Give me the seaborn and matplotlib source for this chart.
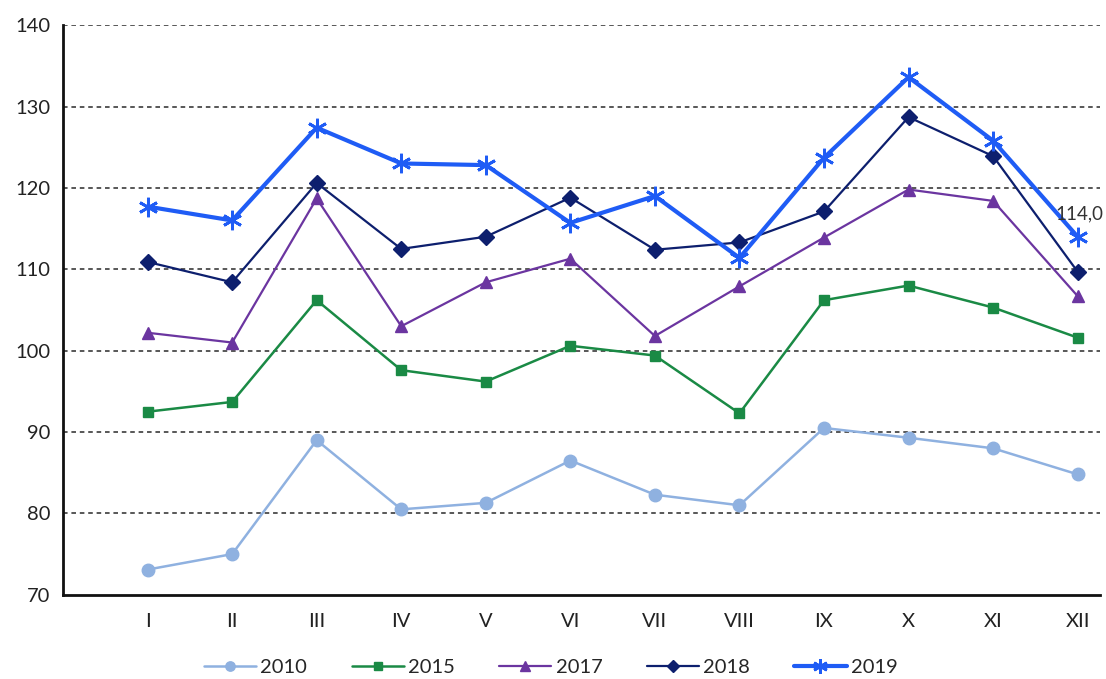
import numpy as np
import pandas as pd
import matplotlib
matplotlib.use("Agg")
import matplotlib.pyplot as plt
import seaborn as sns

months = ["I", "II", "III", "IV", "V", "VI", "VII", "VIII", "IX", "X", "XI", "XII"]

v2010 = [73.1, 75.0, 89.0, 80.5, 81.3, 86.5, 82.3, 81.0, 90.5, 89.3, 88.0, 84.8]
v2015 = [92.5, 93.7, 106.2, 97.6, 96.2, 100.6, 99.4, 92.3, 106.2, 108.0, 105.3, 101.6]
v2017 = [102.2, 101.0, 118.7, 103.0, 108.4, 111.3, 101.8, 107.9, 113.9, 119.8, 118.4, 106.7]
v2018 = [110.9, 108.4, 120.6, 112.5, 114.0, 118.8, 112.4, 113.3, 117.1, 128.7, 123.9, 109.7]
v2019 = [117.7, 116.0, 127.4, 123.0, 122.8, 115.7, 119.0, 111.4, 123.7, 133.6, 125.8, 114.0]

years = ["2010", "2015", "2017", "2018", "2019"]
series = [v2010, v2015, v2017, v2018, v2019]

colors = {"2010": "#8fb1e0", "2015": "#1a8a45", "2017": "#6b35a0",
          "2018": "#0d1f6e", "2019": "#1f5cf5"}
markers = {"2010": "o", "2015": "s", "2017": "^", "2018": "D", "2019": (6, 2, 0)}
msizes = {"2010": 9, "2015": 7, "2017": 9, "2018": 8, "2019": 14}
lwidths = {"2010": 1.8, "2015": 1.8, "2017": 1.6, "2018": 1.6, "2019": 3.0}

rows = []
for y, vals in zip(years, series):
    for i, v in enumerate(vals):
        rows.append({"year": y, "pos": i + 1, "value": v})
df = pd.DataFrame(rows)

sns.set_style("white")
plt.rcParams["font.family"] = ["Lato", "DejaVu Sans"]

fig = plt.figure(figsize=(11.06, 6.79), dpi=100)
ax = fig.add_axes([0.057, 0.124, 0.938, 0.839])

for y in years:
    sub = df[df["year"] == y]
    sns.lineplot(data=sub, x="pos", y="value", ax=ax, color=colors[y],
                 marker=markers[y], markersize=msizes[y], linewidth=lwidths[y],
                 markeredgecolor=colors[y], markeredgewidth=2 if y == "2019" else 1,
                 label=y)

# data label on last point of 2019
ax.annotate("114,0", (12, v2019[-1]), xytext=(1, 10), textcoords="offset points",
            ha="center", va="bottom", fontsize=13.5, color="#333333",
            annotation_clip=False)

ax.set_xlim(0, 12.27)
ax.set_ylim(70, 140)
ax.set_yticks(np.arange(70, 141, 10))
ax.set_xticks(range(1, 13))
ax.set_xticklabels(months)
ax.set_xlabel("")
ax.set_ylabel("")
ax.tick_params(axis="both", labelsize=14.5, colors="#222222", length=5, width=1.5, direction="out")
ax.tick_params(axis="x", pad=8)
ax.tick_params(axis="y", pad=4)

for yv in range(80, 141, 10):
    ax.axhline(yv, color="#2a2a2a", linestyle=(0, (3, 2.5)), linewidth=1.1, zorder=0)

for s in ["top", "right"]:
    ax.spines[s].set_visible(False)
for s in ["left", "bottom"]:
    ax.spines[s].set_linewidth(2)
    ax.spines[s].set_color("#111111")

ax.legend(loc="upper center", bbox_to_anchor=(0.47, -0.08), ncol=5, frameon=False,
          fontsize=14.5, handlelength=2.6, columnspacing=2.2, handletextpad=0.2,
          markerscale=0.75)

plt.savefig("out.png", dpi=100)
